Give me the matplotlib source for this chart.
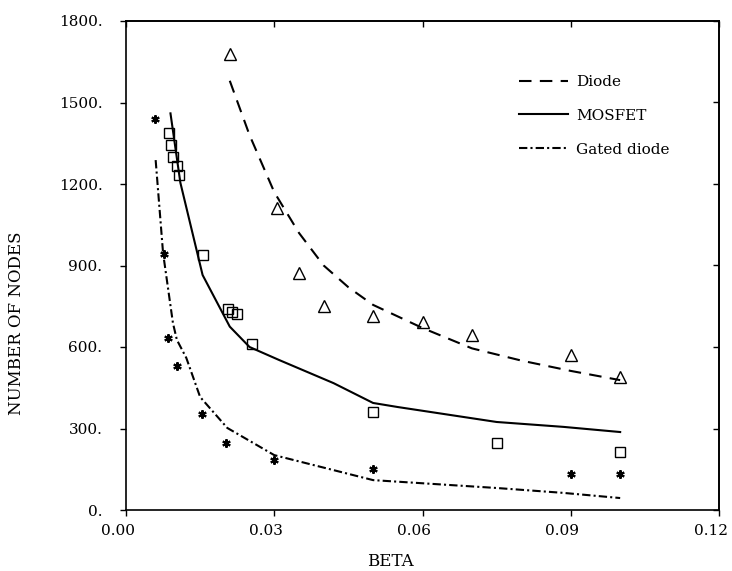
import matplotlib.pyplot as plt
from matplotlib.lines import Line2D
from matplotlib.transforms import ScaledTranslation

# measured points
diode_beta = [0.021, 0.0305, 0.035, 0.040, 0.050, 0.060, 0.070, 0.090, 0.100]
diode_nodes = [1680, 1110, 872, 750, 715, 692, 645, 572, 490]

mosfet_beta = [0.0087, 0.0091, 0.0095, 0.0103, 0.0107, 0.0156, 0.0207, 0.0215, 0.0225, 0.0255, 0.050, 0.075, 0.100]
mosfet_nodes = [1388, 1344, 1299, 1266, 1233, 939, 740, 729, 721, 611, 361, 247, 213]

gated_beta = [0.0059, 0.0077, 0.0085, 0.0103, 0.0154, 0.0203, 0.030, 0.050, 0.090, 0.100]
gated_nodes = [1439, 942, 633, 530, 353, 247, 184, 151, 133, 133]

# fitted curves
diode_fit_beta = [0.021, 0.025, 0.030, 0.035, 0.040, 0.045, 0.050, 0.060, 0.070, 0.080, 0.090, 0.100]
diode_fit_nodes = [1580, 1380, 1170, 1020, 900, 820, 755, 670, 595, 550, 512, 478]

mosfet_fit_beta = [0.009, 0.011, 0.0155, 0.021, 0.025, 0.031, 0.042, 0.050, 0.055, 0.075, 0.0885, 0.100]
mosfet_fit_nodes = [1460, 1205, 865, 675, 600, 552, 467, 394, 379, 324, 306, 287]

gated_fit_beta = [0.006, 0.0075, 0.0095, 0.0103, 0.0122, 0.015, 0.0205, 0.030, 0.050, 0.075, 0.0885, 0.100]
gated_fit_nodes = [1288, 946, 688, 626, 560, 416, 302, 202, 110, 81, 63, 44]

x_ticks = [0.00, 0.03, 0.06, 0.09, 0.12]
y_ticks = [0, 300, 600, 900, 1200, 1500, 1800]

plt.rcParams['font.family'] = 'DejaVu Serif'

fig = plt.figure(figsize=(7.32, 5.71), dpi=100)
ax = fig.add_axes([126/732, 61/571, 593/732, 489/571])

dash = (6, 4)
dashdot = (4, 1.5, 1, 1.5)

ax.plot(diode_fit_beta, diode_fit_nodes, color='black', lw=1.5, dashes=dash)
ax.plot(mosfet_fit_beta, mosfet_fit_nodes, color='black', lw=1.5)
ax.plot(gated_fit_beta, gated_fit_nodes, color='black', lw=1.5, dashes=dashdot)

ax.plot(diode_beta, diode_nodes, ls='none', marker='^', ms=9, mfc='none', mec='black', mew=1.0)
ax.plot(mosfet_beta, mosfet_nodes, ls='none', marker='s', ms=7, mfc='none', mec='black', mew=1.0)
ax.plot(gated_beta, gated_nodes, ls='none', marker=(6, 2, 0), ms=6, mec='black', mew=1.5)

ax.set_xlim(0, 0.12)
ax.set_ylim(0, 1800)
ax.set_xticks(x_ticks)
ax.set_xticklabels([f"{v:.2f}" for v in x_ticks])
ax.set_yticks(y_ticks)
ax.set_yticklabels([f"{v}." for v in y_ticks])
ax.tick_params(direction='out', length=4, width=1.0, labelsize=11)
ax.tick_params(axis='y', pad=13)
ax.tick_params(axis='x', pad=6)

# x tick labels sit a little left of their ticks in the original
shift = ScaledTranslation(-6/72, 0, fig.dpi_scale_trans)
for lab in ax.get_xticklabels():
    lab.set_transform(lab.get_transform() + shift)

# inward ticks on top and right
top = ax.secondary_xaxis('top')
top.set_xticks(x_ticks)
top.tick_params(direction='in', length=4, width=1.0, labeltop=False)
right = ax.secondary_yaxis('right')
right.set_yticks(y_ticks)
right.tick_params(direction='in', length=4, width=1.0, labelright=False)

for s in ax.spines.values():
    s.set_linewidth(1.2)
top.spines['top'].set_linewidth(1.2)
right.spines['right'].set_linewidth(1.2)

ax.set_xlabel("BETA", fontsize=12)
ax.xaxis.set_label_coords(0.445, -0.088)
ax.set_ylabel("NUMBER OF NODES", fontsize=12)
ax.yaxis.set_label_coords(-0.170, 0.382)

handles = [
    Line2D([], [], color='black', lw=1.5, dashes=dash),
    Line2D([], [], color='black', lw=1.5),
    Line2D([], [], color='black', lw=1.5, dashes=dashdot),
]
ax.legend(handles, ["Diode", "MOSFET", "Gated diode"], loc='upper left',
          bbox_to_anchor=(0.64, 0.918), frameon=False, fontsize=11,
          handlelength=3.2, handletextpad=0.5, labelspacing=1.3)

fig.savefig("out.png", dpi=100)
